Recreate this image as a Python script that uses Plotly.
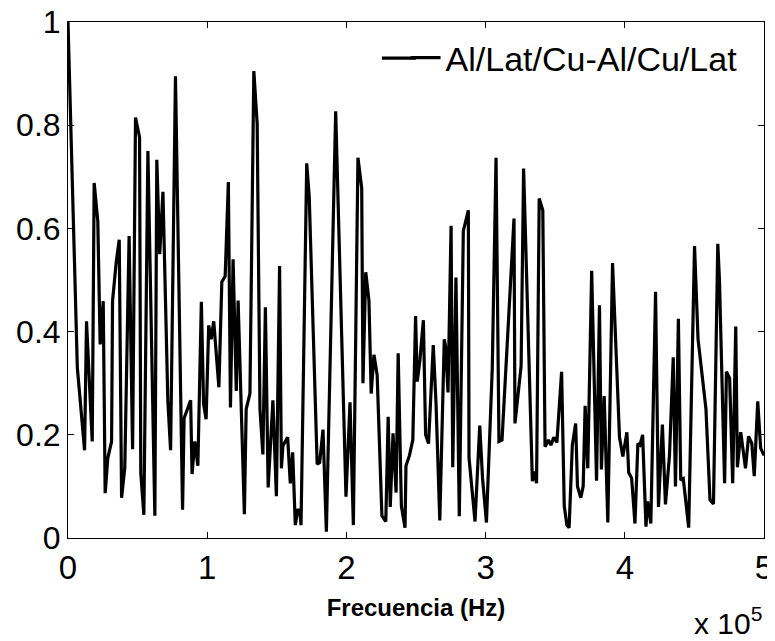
import plotly.graph_objects as go

# Frequency (Hz) of each traced vertex
freq_hz = [
    0, 6700, 11900, 13300, 17400, 18800, 21400, 23100, 25300, 26700,
    28600, 31300, 32000, 34700, 36800, 38500, 40800, 43900, 46400, 48500,
    51400, 52300, 54500, 57400, 62400, 63800, 65900, 68200, 71000, 71700,
    73700, 77200, 82300, 83400, 88100, 89100, 91100, 93300, 95800, 97400,
    99200, 101100, 102800, 104700, 108400, 110500, 112900, 115200, 116700, 118600,
    120900, 122200, 126700, 128000, 130700, 133500, 135900, 137900, 140000, 141800,
    143800, 147200, 149700, 152000, 153300, 154400, 157800, 159700, 161400, 163300,
    165100, 166600, 167400, 171500, 173300, 179000, 180800, 183200, 185600, 192300,
    199700, 202600, 205000, 208300, 211000, 211900, 213900, 216200, 217800, 219800,
    222100, 225500, 228300, 230000, 231500, 233500, 235700, 237200, 239500, 242100,
    242800, 245300, 247700, 249700, 250900, 252800, 255300, 256900, 259000, 262400,
    264400, 267100, 270300, 271200, 273000, 275200, 276400, 278700, 281100, 284000,
    287600, 288100, 292400, 295800, 297800, 300600, 304800, 307500, 309600, 311800,
    320400, 321100, 325500, 327300, 333600, 335100, 336600, 338500, 341100, 342700,
    345100, 346900, 349000, 351200, 354600, 356500, 358400, 360000, 362300, 364700,
    366000, 368400, 370100, 371500, 373400, 376200, 379700, 381800, 383200, 385200,
    387800, 391200, 396200, 398600, 401500, 402800, 404900, 407300, 409400, 410900,
    412800, 415200, 416400, 418700, 422100, 424200, 427000, 429200, 432100, 434800,
    436400, 438500, 440200, 442000, 445900, 450100, 452600, 458300, 461200, 463700,
    466800, 468000, 471700, 473000, 475300, 477500, 479700, 480900, 483300, 485100,
    486700, 488900, 491200, 493000, 495500, 497600, 500000,
]

# Normalised amplitude at each vertex
amplitude = [
    1.00, 0.33, 0.17, 0.42, 0.187, 0.688, 0.614, 0.375, 0.459, 0.087,
    0.155, 0.187, 0.459, 0.536, 0.578, 0.078, 0.136, 0.585, 0.172, 0.815,
    0.777, 0.125, 0.045, 0.75, 0.043, 0.733, 0.55, 0.671, 0.35, 0.267,
    0.17, 0.895, 0.055, 0.232, 0.267, 0.124, 0.187, 0.14, 0.458, 0.26,
    0.23, 0.412, 0.385, 0.42, 0.292, 0.496, 0.507, 0.69, 0.253, 0.54,
    0.285, 0.46, 0.046, 0.25, 0.28, 0.905, 0.803, 0.25, 0.162, 0.447,
    0.098, 0.267, 0.081, 0.527, 0.135, 0.179, 0.195, 0.106, 0.166, 0.025,
    0.056, 0.05, 0.025, 0.726, 0.661, 0.143, 0.146, 0.21, 0.012, 0.827,
    0.08, 0.263, 0.025, 0.737, 0.678, 0.3, 0.515, 0.46, 0.28, 0.355,
    0.316, 0.043, 0.032, 0.235, 0.06, 0.203, 0.088, 0.358, 0.062, 0.02,
    0.14, 0.16, 0.19, 0.43, 0.303, 0.345, 0.422, 0.2, 0.183, 0.374,
    0.26, 0.034, 0.385, 0.372, 0.282, 0.605, 0.137, 0.505, 0.042, 0.595,
    0.635, 0.155, 0.032, 0.218, 0.116, 0.03, 0.33, 0.737, 0.187, 0.19,
    0.619, 0.222, 0.333, 0.716, 0.11, 0.129, 0.106, 0.658, 0.635, 0.177,
    0.19, 0.18, 0.195, 0.185, 0.322, 0.062, 0.025, 0.02, 0.18, 0.222,
    0.1, 0.078, 0.1, 0.256, 0.135, 0.518, 0.111, 0.451, 0.133, 0.275,
    0.03, 0.533, 0.195, 0.158, 0.205, 0.127, 0.116, 0.028, 0.183, 0.18,
    0.2, 0.022, 0.071, 0.028, 0.477, 0.06, 0.22, 0.065, 0.16, 0.35,
    0.1, 0.425, 0.112, 0.115, 0.02, 0.566, 0.386, 0.25, 0.074, 0.066,
    0.57, 0.5, 0.106, 0.322, 0.31, 0.106, 0.41, 0.137, 0.205, 0.172,
    0.135, 0.197, 0.184, 0.12, 0.265, 0.174, 0.16,
]
assert len(freq_hz) == len(amplitude)

series_name = "Al/Lat/Cu-Al/Cu/Lat"
x_tick_vals = [0, 100000, 200000, 300000, 400000, 500000]
x_tick_text = ["0", "1", "2", "3", "4", "5"]
y_tick_vals = [0, 0.2, 0.4, 0.6, 0.8, 1]
y_tick_text = ["0", "0.2", "0.4", "0.6", "0.8", "1"]
x_title = "Frecuencia (Hz)"

FONT = "Liberation Sans, Arial, sans-serif"

fig = go.Figure()
fig.add_trace(go.Scatter(
    x=freq_hz, y=amplitude, mode="lines", name=series_name,
    line=dict(color="black", width=3.2),
))

# the page body adds an 8 px offset, so the figure is 8 px smaller than the window
fig.update_layout(
    width=767, height=633,
    margin=dict(l=60, r=11, t=14, b=103, autoexpand=False),
    paper_bgcolor="white", plot_bgcolor="white",
    font=dict(family=FONT, color="black", size=33),
    showlegend=True,
    legend=dict(
        x=0.485, y=0.93, xanchor="left", yanchor="middle",
        bgcolor="rgba(0,0,0,0)", borderwidth=0,
        font=dict(family=FONT, size=34, color="black"),
    ),
    xaxis=dict(
        range=[0, 500000], tickvals=x_tick_vals, ticktext=x_tick_text,
        ticks="inside", ticklen=6, tickcolor="black", tickwidth=1,
        showline=True, linecolor="black", linewidth=1, mirror="ticks",
        showgrid=False, zeroline=False, ticklabeloverflow="allow",
        tickfont=dict(family=FONT, size=33),
        title=dict(text="<b>" + x_title + "</b>", font=dict(family=FONT, size=24), standoff=14),
    ),
    yaxis=dict(
        range=[0, 1], tickvals=y_tick_vals, ticktext=y_tick_text,
        ticks="inside", ticklen=6, tickcolor="black", tickwidth=1,
        showline=True, linecolor="black", linewidth=1, mirror="ticks",
        showgrid=False, zeroline=False, ticklabeloverflow="allow",
        tickfont=dict(family=FONT, size=32),
    ),
)

# extend the legend's sample line to the reference's longer stroke
fig.add_shape(
    type="line", xref="paper", yref="paper",
    x0=0.451, x1=0.50, y0=0.93, y1=0.93,
    line=dict(color="black", width=3.2),
)

fig.add_annotation(
    text="x 10<sup>5</sup>", xref="paper", yref="paper",
    x=1.0, y=-0.16, xanchor="right", yanchor="middle", showarrow=False,
    font=dict(family=FONT, size=30, color="black"),
)

fig.write_html("out.html")
